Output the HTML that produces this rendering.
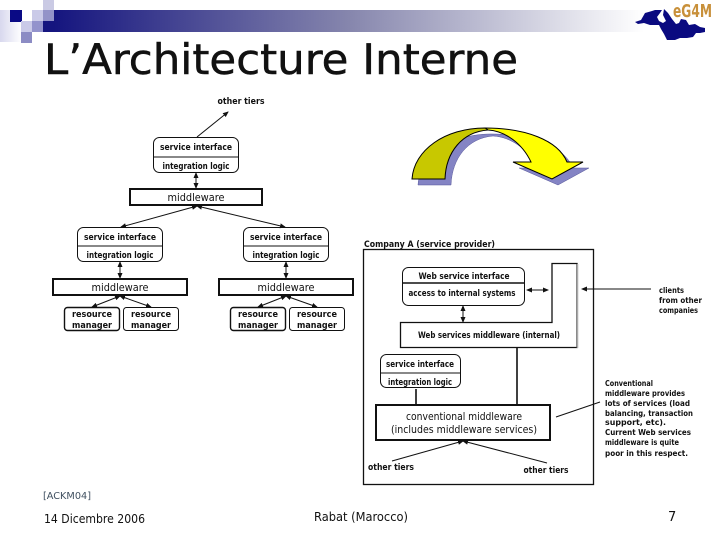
<!DOCTYPE html>
<html><head><meta charset="utf-8"><style>
html,body{margin:0;padding:0;background:#fff}
svg{display:block}
text{font-family:"DejaVu Sans","Liberation Sans",sans-serif;fill:#111}
.b{font-size:9px;font-weight:bold;text-anchor:middle}
.m{font-size:11px;text-anchor:middle}
</style></head><body>
<svg width="720" height="540" viewBox="0 0 720 540" xmlns="http://www.w3.org/2000/svg">
<defs>
<linearGradient id="g"><stop offset="0" stop-color="#15157f"/><stop offset=".5" stop-color="#8686ad"/><stop offset="1" stop-color="#fff"/></linearGradient>
<linearGradient id="s"><stop offset="0" stop-color="#d8d8ee"/><stop offset="1" stop-color="#fff"/></linearGradient>
<marker id="a" markerWidth="6" markerHeight="6" refX="5" refY="3" orient="auto-start-reverse" markerUnits="userSpaceOnUse"><path d="M0 0.5L6 3L0 5.5z" fill="#111"/></marker>
</defs>
<rect x="54" y="10" width="590" height="22" fill="url(#g)"/>
<rect x="0" y="10" width="22" height="32" fill="url(#s)"/>
<rect x="10" y="10" width="12" height="12" fill="#0a0a85"/>
<rect x="32" y="10" width="11" height="11" fill="#cacae8"/>
<rect x="43" y="10" width="11" height="11" fill="#9393c8"/>
<rect x="43" y="0" width="11" height="10" fill="#cacae4"/>
<rect x="21" y="21" width="11" height="11" fill="#cacae8"/>
<rect x="32" y="21" width="11" height="11" fill="#9393cc"/>
<rect x="43" y="21" width="11" height="11" fill="#15157f"/>
<rect x="21" y="32" width="11" height="11" fill="#8c8cc4"/>
<text x="44" y="74" font-size="42" textLength="474" lengthAdjust="spacingAndGlyphs" style="font-family:'DejaVu Sans',sans-serif;stroke:#111;stroke-width:.5">L’Architecture Interne</text>
<polygon fill="#0a0a80" points="635,22 641,20 645,13 652,11 655,10 662,10 660,13 657,17 659,21 663,23 666,21 663,15 664,9 668,13 672,19 676,24 679,23 681,19 686,20 689,25 695,24 700,27 705,28 705,32 700,33 696,33 693,37 687,38 680,38 675,40 667,40 664,34 661,29 659,25 654,25 650,25 644,23 638,24"/>
<text x="673" y="17" font-size="18" font-weight="bold" textLength="39" lengthAdjust="spacingAndGlyphs" style="fill:#c8903a;font-family:'DejaVu Sans',sans-serif">eG4M</text>

<!-- big arrow -->
<g transform="translate(6,6)" fill="#8484c4" stroke="#555599" stroke-width=".5">
<path d="M412 179C414 150 445 128 485 128C525 128 558 140 567 162L583 162L552 179L513 162L531 162C522 143 505 131 487 130C462 132 446 152 445 179Z"/>
</g>
<path d="M488 130C505 131 522 143 531 162L513 162L552 179L583 162L567 162C558 140 525 128 485 128Z" fill="#ffff00" stroke="#000" stroke-width="1"/>
<path d="M412 179C414 150 445 128 485 128L488 130C462 132 446 152 445 179Z" fill="#c8c800" stroke="#000" stroke-width="1"/>

<!-- left diagram -->
<g fill="none" stroke="#111" stroke-width="1">
<rect x="153.500" y="137.500" width="85" height="35" rx="6" fill="#fff"/><path d="M154 157H238"/>
<rect x="77.500" y="227.500" width="85" height="34" rx="6" fill="#fff"/><path d="M78 246H162"/>
<rect x="243.500" y="227.500" width="85" height="34" rx="6" fill="#fff"/><path d="M244 246H328"/>
<rect x="64.500" y="307.500" width="55" height="23" rx="3" stroke-width="1.400"/>
<rect x="123.500" y="307.500" width="55" height="23" rx="3"/>
<rect x="230.500" y="307.500" width="55" height="23" rx="3" stroke-width="1.400"/>
<rect x="289.500" y="307.500" width="55" height="23" rx="3"/>
<g stroke-width="2"><rect x="130" y="189" width="132" height="16"/><rect x="53" y="279" width="134" height="16"/><rect x="219" y="279" width="134" height="16"/></g>
<g marker-end="url(#a)">
<path d="M197 137L228 112"/>
<path d="M196 173V188" marker-start="url(#a)"/>
<path d="M197 206L121 227" marker-start="url(#a)"/>
<path d="M197 206L285 227" marker-start="url(#a)"/>
<path d="M120 262V278" marker-start="url(#a)"/>
<path d="M286 262V278" marker-start="url(#a)"/>
<path d="M120 296L92 307" marker-start="url(#a)"/>
<path d="M120 296L151 307" marker-start="url(#a)"/>
<path d="M286 296L258 307" marker-start="url(#a)"/>
<path d="M286 296L317 307" marker-start="url(#a)"/>
</g>
</g>
<text class="b" x="241" y="104" textLength="47" lengthAdjust="spacingAndGlyphs">other tiers</text>
<g>
<text class="b" x="196" y="150" textLength="72" lengthAdjust="spacingAndGlyphs">service interface</text>
<text class="b" x="196" y="169" textLength="67" lengthAdjust="spacingAndGlyphs">integration logic</text>
<text class="b" x="120" y="240" textLength="72" lengthAdjust="spacingAndGlyphs">service interface</text>
<text class="b" x="120" y="258" textLength="67" lengthAdjust="spacingAndGlyphs">integration logic</text>
<text class="b" x="286" y="240" textLength="72" lengthAdjust="spacingAndGlyphs">service interface</text>
<text class="b" x="286" y="258" textLength="67" lengthAdjust="spacingAndGlyphs">integration logic</text>
</g>
<text class="m" x="196" y="201" textLength="57" lengthAdjust="spacingAndGlyphs">middleware</text>
<text class="m" x="120" y="291" textLength="57" lengthAdjust="spacingAndGlyphs">middleware</text>
<text class="m" x="286" y="291" textLength="57" lengthAdjust="spacingAndGlyphs">middleware</text>
<text class="b" x="92" y="317" textLength="40" lengthAdjust="spacingAndGlyphs">resource</text>
<text class="b" x="92" y="328" textLength="40" lengthAdjust="spacingAndGlyphs">manager</text>
<text class="b" x="151" y="317" textLength="40" lengthAdjust="spacingAndGlyphs">resource</text>
<text class="b" x="151" y="328" textLength="40" lengthAdjust="spacingAndGlyphs">manager</text>
<text class="b" x="258" y="317" textLength="40" lengthAdjust="spacingAndGlyphs">resource</text>
<text class="b" x="258" y="328" textLength="40" lengthAdjust="spacingAndGlyphs">manager</text>
<text class="b" x="317" y="317" textLength="40" lengthAdjust="spacingAndGlyphs">resource</text>
<text class="b" x="317" y="328" textLength="40" lengthAdjust="spacingAndGlyphs">manager</text>

<!-- right diagram -->
<text x="364" y="247" font-size="9" font-weight="bold" textLength="131" lengthAdjust="spacingAndGlyphs">Company A (service provider)</text>
<g fill="none" stroke="#111" stroke-width="1">
<rect x="363.500" y="249.500" width="230" height="235" stroke-width="1.300"/>
<rect x="402.500" y="267.500" width="122" height="38" rx="6"/><path d="M403 283H524" stroke-width="1.400"/>
<path d="M400.500 322.500H552V263.500H577V347.500H400.500Z" stroke-width="1.300" fill="#fff"/>
<path d="M577.500 264V348" stroke="#aaa" stroke-width="1.500"/>
<path d="M517 348V404M416 389V404" stroke-width="1.600"/>
<rect x="380.500" y="354.500" width="80" height="33" rx="6"/><path d="M381 373H460"/>
<rect x="376" y="405" width="174" height="35" stroke-width="2"/>
<path d="M527 290H548" marker-start="url(#a)" marker-end="url(#a)"/>
<path d="M582 289H651" marker-start="url(#a)"/>
<path d="M463 306V322" marker-start="url(#a)" marker-end="url(#a)"/>
<path d="M556 417L600 402"/>
<path d="M463 441L392 461" marker-start="url(#a)"/>
<path d="M463 441L547 463" marker-start="url(#a)"/>
</g>
<text class="b" x="464" y="279" textLength="91" lengthAdjust="spacingAndGlyphs">Web service interface</text>
<text class="b" x="462" y="296" textLength="107" lengthAdjust="spacingAndGlyphs">access to internal systems</text>
<text class="b" x="489" y="338" textLength="142" lengthAdjust="spacingAndGlyphs">Web services middleware (internal)</text>
<text class="b" x="420" y="367" textLength="68" lengthAdjust="spacingAndGlyphs">service interface</text>
<text class="b" x="420" y="385" textLength="64" lengthAdjust="spacingAndGlyphs">integration logic</text>
<text class="m" x="464" y="420" textLength="116" lengthAdjust="spacingAndGlyphs">conventional middleware</text>
<text class="m" x="464" y="433" textLength="146" lengthAdjust="spacingAndGlyphs">(includes middleware services)</text>
<text class="b" x="391" y="470" textLength="46" lengthAdjust="spacingAndGlyphs">other tiers</text>
<text class="b" x="546" y="473" textLength="45" lengthAdjust="spacingAndGlyphs">other tiers</text>
<g font-size="8" font-weight="bold">
<text x="659" y="293" textLength="25" lengthAdjust="spacingAndGlyphs">clients</text>
<text x="659" y="303" textLength="43" lengthAdjust="spacingAndGlyphs">from other</text>
<text x="659" y="313" textLength="39" lengthAdjust="spacingAndGlyphs">companies</text>
<text x="605" y="386" textLength="48" lengthAdjust="spacingAndGlyphs">Conventional</text>
<text x="605" y="396" textLength="80" lengthAdjust="spacingAndGlyphs">middleware provides</text>
<text x="605" y="406" textLength="85" lengthAdjust="spacingAndGlyphs">lots of services (load</text>
<text x="605" y="416" textLength="88" lengthAdjust="spacingAndGlyphs">balancing, transaction</text>
<text x="605" y="425" textLength="61" lengthAdjust="spacingAndGlyphs">support, etc).</text>
<text x="605" y="435" textLength="86" lengthAdjust="spacingAndGlyphs">Current Web services</text>
<text x="605" y="445" textLength="74" lengthAdjust="spacingAndGlyphs">middleware is quite</text>
<text x="605" y="456" textLength="83" lengthAdjust="spacingAndGlyphs">poor in this respect.</text>
</g>

<!-- footer -->
<text x="43" y="499" font-size="10" textLength="48" lengthAdjust="spacingAndGlyphs" style="fill:#405060">[ACKM04]</text>
<text x="44" y="523" font-size="12" textLength="101" lengthAdjust="spacingAndGlyphs">14 Dicembre 2006</text>
<text x="314" y="521" font-size="12" textLength="94" lengthAdjust="spacingAndGlyphs">Rabat (Marocco)</text>
<text x="668" y="521" font-size="13">7</text>
</svg>
</body></html>
